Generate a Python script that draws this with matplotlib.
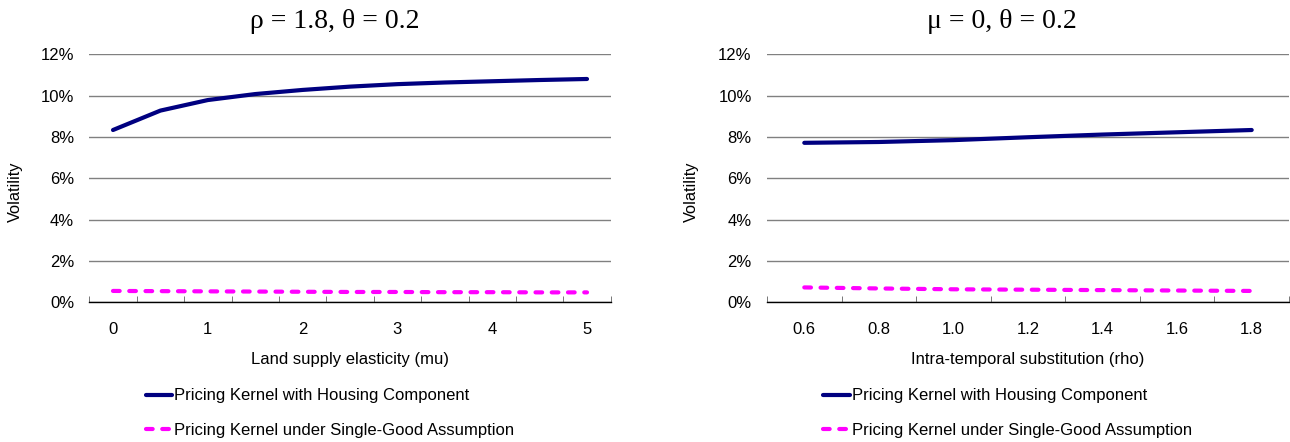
import numpy as np
import matplotlib
matplotlib.use("Agg")
import matplotlib.pyplot as plt
from matplotlib.ticker import FuncFormatter, FixedLocator

# left panel: rho = 1.8, theta = 0.2
mu_vals = [0, 0.5, 1, 1.5, 2, 2.5, 3, 3.5, 4, 4.5, 5]
mu_housing = [8.34, 9.28, 9.79, 10.08, 10.28, 10.44, 10.56, 10.64, 10.70, 10.76, 10.81]
mu_single = [0.55, 0.54, 0.53, 0.52, 0.51, 0.50, 0.50, 0.49, 0.49, 0.48, 0.48]
mu_labels = ["0", "1", "2", "3", "4", "5"]

# right panel: mu = 0, theta = 0.2
rho_vals = [0.6, 0.8, 1.0, 1.2, 1.4, 1.6, 1.8]
rho_housing = [7.72, 7.76, 7.85, 7.99, 8.12, 8.23, 8.34]
rho_single = [0.72, 0.67, 0.63, 0.61, 0.59, 0.57, 0.55]
rho_labels = ["0.6", "0.8", "1.0", "1.2", "1.4", "1.6", "1.8"]

titles = ["\u03c1 = 1.8, \u03b8 = 0.2", "\u03bc = 0, \u03b8 = 0.2"]
xlabels = ["Land supply elasticity (mu)", "Intra-temporal substitution (rho)"]
series_names = ["Pricing Kernel with Housing Component",
                "Pricing Kernel under Single-Good Assumption"]

W, H = 1290, 442
plt.rcParams['font.family'] = ['Liberation Sans', 'DejaVu Sans']
fig = plt.figure(figsize=(W / 100, H / 100), dpi=100)


def px(x0, y0, x1, y1):
    return [x0 / W, 1 - y1 / H, (x1 - x0) / W, (y1 - y0) / H]


def panel(rect, x, y1, y2, step, every, labels, title, title_x, xlabel, ylabel_x, legend_x):
    ax = fig.add_axes(rect)
    ax.plot(x, y1, color="#000080", lw=3.0, solid_capstyle="round")
    ax.plot(x, y2, color="#ff00ff", lw=3.0, dashes=(1.6, 2.3), dash_capstyle="round")
    ax.set_ylim(0, 12)
    ax.set_xlim(x[0] - step / 2, x[-1] + step / 2)
    ax.set_yticks(np.arange(0, 13, 2))
    ax.yaxis.set_major_formatter(FuncFormatter(lambda v, p: "%d%%" % v))
    ax.grid(axis="y", color="#808080", lw=1.0)
    ax.set_axisbelow(True)
    for s in ["left", "right", "top"]:
        ax.spines[s].set_visible(False)
    ax.spines["bottom"].set_linewidth(1.0)
    ax.spines["bottom"].set_color("black")
    ax.tick_params(axis="y", length=0, labelsize=12, pad=11)
    # labels on some categories, tick marks at category borders
    ax.set_xticks(x[::every])
    ax.set_xticklabels(labels)
    bounds = [v - step / 2 for v in x] + [x[-1] + step / 2]
    ax.xaxis.set_minor_locator(FixedLocator(bounds))
    ax.tick_params(axis="x", which="major", length=0, labelsize=12, pad=14)
    ax.tick_params(axis="x", which="minor", direction="in", length=4, color="#606060")
    ax.set_xlabel(xlabel, fontsize=12, labelpad=11)
    fig.text(ylabel_x / W, 1 - 192 / H, "Volatility", rotation=90, fontsize=11.8,
             ha="center", va="center")
    fig.text(title_x / W, 1 - 21 / H, title, family="Liberation Serif", fontsize=20,
             ha="center", va="center")
    h = ax.get_lines()
    fig.legend(h, series_names, loc="center left",
               bbox_to_anchor=(legend_x / W, 1 - 413 / H), frameon=False,
               fontsize=12, handlelength=1.6, handletextpad=0.12, labelspacing=1.15,
               borderpad=0, borderaxespad=0)
    return ax


panel(px(89.3, 54.4, 610.7, 302.3), mu_vals, mu_housing, mu_single, 0.5, 2, mu_labels,
      titles[0], 335, xlabels[0], 15, 145.7)
panel(px(767, 54.4, 1289, 302.3), rho_vals, rho_housing, rho_single, 0.2, 1, rho_labels,
      titles[1], 1002, xlabels[1], 691, 823)

fig.savefig("out.png", dpi=100)
